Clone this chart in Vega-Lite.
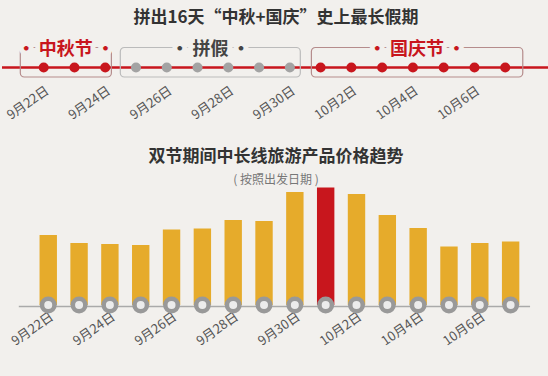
{
  "$schema": "https://vega.github.io/schema/vega-lite/v6.json",
  "background": "#f2f0ed",
  "padding": {"left": 0, "right": 0, "top": 8, "bottom": 34},
  "spacing": 26,
  "config": {
    "view": {"stroke": null},
    "font": "Noto Sans CJK SC",
    "title": {"font": "Noto Sans CJK SC", "anchor": "middle", "frame": "group", "color": "#333333", "fontSize": 17, "fontWeight": "bold"},
    "axis": {"labelFont": "Noto Sans CJK SC", "labelFontSize": 13, "labelColor": "#555555", "domain": false, "ticks": false, "grid": false, "title": null}
  },
  "datasets": {
    "days": [
      {"day": 1, "date": "9月22日", "group": "中秋节", "value": 70},
      {"day": 2, "date": "9月23日", "group": "中秋节", "value": 62},
      {"day": 3, "date": "9月24日", "group": "中秋节", "value": 61},
      {"day": 4, "date": "9月25日", "group": "拼假", "value": 60},
      {"day": 5, "date": "9月26日", "group": "拼假", "value": 75.5},
      {"day": 6, "date": "9月27日", "group": "拼假", "value": 76.5},
      {"day": 7, "date": "9月28日", "group": "拼假", "value": 85},
      {"day": 8, "date": "9月29日", "group": "拼假", "value": 84},
      {"day": 9, "date": "9月30日", "group": "拼假", "value": 113},
      {"day": 10, "date": "10月1日", "group": "国庆节", "value": 117.5},
      {"day": 11, "date": "10月2日", "group": "国庆节", "value": 111},
      {"day": 12, "date": "10月3日", "group": "国庆节", "value": 90},
      {"day": 13, "date": "10月4日", "group": "国庆节", "value": 77},
      {"day": 14, "date": "10月5日", "group": "国庆节", "value": 58.5},
      {"day": 15, "date": "10月6日", "group": "国庆节", "value": 62},
      {"day": 16, "date": "10月7日", "group": "国庆节", "value": 63.5}
    ],
    "spans": [
      {"group": "中秋节", "from": 0.24, "to": 3.2, "mid": 1.72},
      {"group": "拼假", "from": 3.49, "to": 9.34, "mid": 6.42},
      {"group": "国庆节", "from": 9.7, "to": 16.57, "mid": 13.13}
    ]
  },
  "vconcat": [
    {
      "width": 548,
      "height": 40,
      "title": {"text": "拼出16天“中秋+国庆”史上最长假期", "offset": 14},
      "layer": [
        {
          "data": {"values": [{}]},
          "mark": {"type": "rule", "color": "#c8161d", "strokeWidth": 2.5},
          "encoding": {
            "x": {"datum": -0.355, "type": "quantitative", "scale": {"domain": [-0.355, 17.455], "nice": false, "zero": false}},
            "x2": {"datum": 17.455},
            "y": {"datum": 14.5, "type": "quantitative", "scale": {"domain": [0, 40], "nice": false, "zero": false}, "axis": null}
          }
        },
        {
          "data": {"name": "spans"},
          "mark": {"type": "rect", "fillOpacity": 0, "strokeWidth": 1.2, "cornerRadius": 4},
          "encoding": {
            "x": {"field": "from", "type": "quantitative"},
            "x2": {"field": "to"},
            "y": {"datum": 5, "type": "quantitative"},
            "y2": {"datum": 34.5},
            "stroke": {"field": "group", "type": "nominal", "scale": {"domain": ["中秋节", "拼假", "国庆节"], "range": ["#b58c8c", "#bbbbbb", "#b58c8c"]}, "legend": null}
          }
        },
        {
          "data": {"name": "spans"},
          "transform": [{"calculate": "'·\u2009' + datum.group + '\u2009·'", "as": "lab"}],
          "mark": {"type": "text", "fontSize": 18, "fontWeight": "bold", "stroke": "#f2f0ed", "strokeWidth": 10, "strokeJoin": "round", "fill": "#f2f0ed", "baseline": "middle"},
          "encoding": {
            "x": {"field": "mid", "type": "quantitative"},
            "y": {"datum": 32.5, "type": "quantitative"},
            "text": {"field": "lab"}
          }
        },
        {
          "data": {"name": "days"},
          "mark": {"type": "point", "shape": "circle", "filled": true, "size": 100, "opacity": 1},
          "encoding": {
            "x": {"field": "day", "type": "quantitative", "axis": {"values": [1, 3, 5, 7, 9, 11, 13, 15], "labelAngle": -35, "labelExpr": "datum.value <= 9 ? '9月' + (datum.value + 21) + '日' : '10月' + (datum.value - 9) + '日'"}},
            "y": {"datum": 14.5, "type": "quantitative"},
            "color": {"field": "group", "type": "nominal", "scale": {"domain": ["中秋节", "拼假", "国庆节"], "range": ["#c8161d", "#a3a3a3", "#c8161d"]}, "legend": null}
          }
        },
        {
          "data": {"name": "spans"},
          "transform": [{"calculate": "'·\u2009' + datum.group + '\u2009·'", "as": "lab"}],
          "mark": {"type": "text", "fontSize": 18, "fontWeight": "bold", "baseline": "middle"},
          "encoding": {
            "x": {"field": "mid", "type": "quantitative"},
            "y": {"datum": 32.5, "type": "quantitative"},
            "text": {"field": "lab"},
            "fill": {"field": "group", "type": "nominal", "scale": {"domain": ["中秋节", "拼假", "国庆节"], "range": ["#c8161d", "#444444", "#c8161d"]}, "legend": null}
          }
        }
      ]
    },
    {
      "width": 548,
      "height": 120,
      "title": {"text": "双节期间中长线旅游产品价格趋势", "subtitle": "(  按照出发日期  )", "subtitleFontSize": 12, "subtitleColor": "#777777", "subtitleFont": "Noto Sans CJK SC", "subtitlePadding": 9, "offset": -2},
      "layer": [
        {
          "data": {"values": [{}]},
          "mark": {"type": "rule", "color": "#aaaaaa", "strokeWidth": 1.5, "yOffset": 1.5},
          "encoding": {
            "x": {"datum": 0.045, "type": "quantitative", "scale": {"domain": [-0.338, 17.115], "nice": false, "zero": false}},
            "x2": {"datum": 16.63},
            "y": {"datum": 0, "type": "quantitative", "scale": {"domain": [0, 120], "nice": false}, "axis": null}
          }
        },
        {
          "data": {"name": "days"},
          "mark": {"type": "bar", "size": 17.4},
          "encoding": {
            "x": {"field": "day", "type": "quantitative", "axis": {"values": [1, 3, 5, 7, 9, 11, 13, 15], "labelAngle": -35, "labelPadding": 5, "labelExpr": "datum.value <= 9 ? '9月' + (datum.value + 21) + '日' : '10月' + (datum.value - 9) + '日'"}},
            "y": {"field": "value", "type": "quantitative"},
            "color": {"condition": {"test": "datum.date === '10月1日'", "value": "#c8161d"}, "value": "#e6ab2b"}
          }
        },
        {
          "data": {"name": "days"},
          "mark": {"type": "point", "shape": "circle", "filled": true, "size": 156, "strokeWidth": 4.5, "stroke": "#999999", "fill": "#ececec", "opacity": 1},
          "encoding": {
            "x": {"field": "day", "type": "quantitative"},
            "y": {"datum": 0, "type": "quantitative"}
          }
        }
      ]
    }
  ]
}
